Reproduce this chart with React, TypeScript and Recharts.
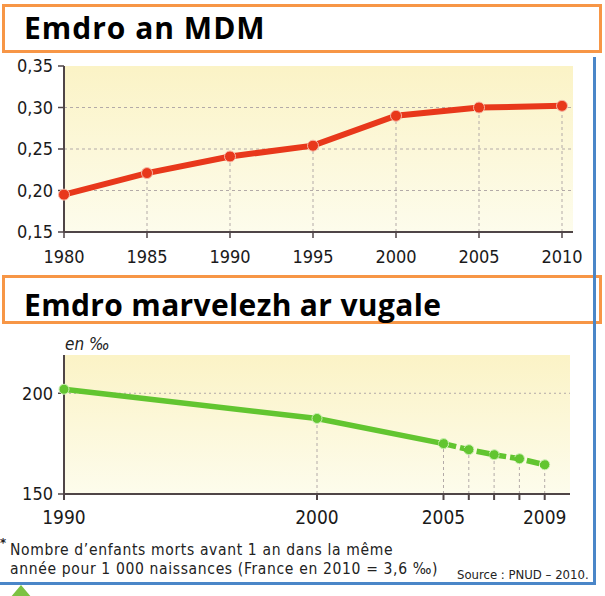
import React from "react";
import { LineChart, Line, XAxis, YAxis, CartesianGrid, ReferenceLine } from "recharts";

// ---- Data: chart 1 (MDM) ----
const years1 = [1980, 1985, 1990, 1995, 2000, 2005, 2010];
const mdmValues = [0.195, 0.221, 0.241, 0.254, 0.29, 0.3, 0.302];
const yTicks1 = [0.15, 0.2, 0.25, 0.3, 0.35];
const gridValues1 = [0.2, 0.25, 0.3];

// ---- Data: chart 2 (mortality) ----
const years2 = [1990, 2000, 2005, 2006, 2007, 2008, 2009];
const mortalityValues = [202, 187.5, 175, 172, 169.5, 167.5, 164.5];
const labeledYears2 = [1990, 2000, 2005, 2009];
const solidUntil = 2005;
const yTicks2 = [150, 200];
const gridValues2 = [200];

const title1 = "Emdro an MDM";
const title2 = "Emdro marvelezh ar vugale";
const unitLabel = "en ‰";
const footLine1 = "Nombre d’enfants morts avant 1 an dans la même";
const footLine2 = "année pour 1 000 naissances (France en 2010 = 3,6 ‰)";
const sourceText = "Source : PNUD – 2010.";

const data1 = years1.map((year, i) => ({ year, v: mdmValues[i] }));
const data2 = years2.map((year, i) => ({
  year,
  solid: year <= solidUntil ? mortalityValues[i] : null,
  dashed: year >= solidUntil ? mortalityValues[i] : null,
}));

const RED = "#e8381b";
const GREEN = "#62c530";
const AXIS = "#4f4547";
const GRID = "#b3aaa8";
const COND = "'DejaVu Sans Condensed', 'Liberation Sans Narrow', 'DejaVu Sans', sans-serif";
const TITLE_FONT = "'Open Sans', 'Noto Sans', sans-serif";

const titleBox: React.CSSProperties = {
  position: "absolute",
  left: 2,
  width: 600,
  height: 49,
  boxSizing: "border-box",
  border: "3px solid #f79646",
  background: "#fff",
};

const titleText: React.CSSProperties = {
  position: "absolute",
  left: 24,
  fontFamily: TITLE_FONT,
  fontWeight: 700,
  fontSize: 30,
  lineHeight: "30px",
  color: "#000",
  whiteSpace: "nowrap",
};

const footStyle: React.CSSProperties = {
  position: "absolute",
  left: 10,
  fontSize: 15.5,
  lineHeight: "15.5px",
  letterSpacing: 0.65,
  color: "#222",
  fontFamily: COND,
  whiteSpace: "nowrap",
};

function Chart1() {
  return (
    <LineChart width={605} height={215} data={data1} margin={{ top: 11, right: 32, left: 0, bottom: 8 }}>
      <defs>
        <linearGradient id="bg1" x1="0" y1="0" x2="0" y2="1">
          <stop offset="0%" stopColor="#fbf3c6" />
          <stop offset="100%" stopColor="#fdfcec" />
        </linearGradient>
      </defs>
      <CartesianGrid fill="url(#bg1)" horizontal={false} vertical={false} stroke="none" />
      {gridValues1.map((v) => (
        <ReferenceLine key={"g" + v} y={v} stroke={GRID} strokeDasharray="3 3" strokeWidth={1} />
      ))}
      {data1.map((d) => (
        <ReferenceLine
          key={"d" + d.year}
          segment={[{ x: d.year, y: yTicks1[0] }, { x: d.year, y: d.v }]}
          stroke={GRID}
          strokeDasharray="3 3"
          strokeWidth={1}
        />
      ))}
      <XAxis
        dataKey="year"
        type="number"
        domain={[years1[0], years1[years1.length - 1]]}
        ticks={years1}
        padding={{ left: 0, right: 11 }}
        height={30}
        tickSize={6}
        tickMargin={12}
        axisLine={{ stroke: AXIS, strokeWidth: 2 }}
        tickLine={{ stroke: AXIS, strokeWidth: 1.5 }}
        tick={{ fill: "#1a1a1a", fontSize: 18, fontFamily: COND }}
        interval={0}
      />
      <YAxis
        type="number"
        domain={[yTicks1[0], yTicks1[yTicks1.length - 1]]}
        ticks={yTicks1}
        width={64}
        tickSize={6}
        tickMargin={5}
        tickFormatter={(v: number) => v.toFixed(2).replace(".", ",")}
        axisLine={{ stroke: AXIS, strokeWidth: 2 }}
        tickLine={{ stroke: AXIS, strokeWidth: 1.5 }}
        tick={{ fill: "#1a1a1a", fontSize: 18, fontFamily: COND }}
        interval={0}
      />
      <Line
        type="linear"
        dataKey="v"
        stroke={RED}
        strokeWidth={6}
        dot={{ r: 5.5, fill: RED, stroke: "#f6b8a6", strokeWidth: 1 }}
        isAnimationActive={false}
      />
    </LineChart>
  );
}

function Chart2() {
  return (
    <LineChart width={605} height={210} data={data2} margin={{ top: 25, right: 35, left: 0, bottom: 10 }}>
      <defs>
        <linearGradient id="bg2" x1="0" y1="0" x2="0" y2="1">
          <stop offset="0%" stopColor="#fbf3c6" />
          <stop offset="100%" stopColor="#fdfcec" />
        </linearGradient>
      </defs>
      <CartesianGrid fill="url(#bg2)" horizontal={false} vertical={false} stroke="none" />
      {gridValues2.map((v) => (
        <ReferenceLine key={"g" + v} y={v} stroke={GRID} strokeDasharray="2 3" strokeWidth={1} />
      ))}
      {years2.map((yr, i) => (
        <ReferenceLine
          key={"d" + yr}
          segment={[{ x: yr, y: yTicks2[0] }, { x: yr, y: mortalityValues[i] }]}
          stroke={GRID}
          strokeDasharray="3 3"
          strokeWidth={1}
        />
      ))}
      <XAxis
        dataKey="year"
        type="number"
        domain={[1990, 2010]}
        ticks={years2}
        height={36}
        tickSize={6}
        tickMargin={11}
        tickFormatter={(v: number) => (labeledYears2.includes(v) ? String(v) : "")}
        axisLine={{ stroke: AXIS, strokeWidth: 2 }}
        tickLine={{ stroke: AXIS, strokeWidth: 2 }}
        tick={{ fill: "#1a1a1a", fontSize: 19, fontFamily: COND }}
        interval={0}
      />
      <YAxis
        type="number"
        domain={[150, 219]}
        ticks={yTicks2}
        width={64}
        tickSize={6}
        tickMargin={5}
        axisLine={{ stroke: AXIS, strokeWidth: 2 }}
        tickLine={{ stroke: AXIS, strokeWidth: 1.5 }}
        tick={{ fill: "#1a1a1a", fontSize: 18, fontFamily: COND }}
        interval={0}
      />
      <Line
        type="linear"
        dataKey="solid"
        stroke={GREEN}
        strokeWidth={5.5}
        dot={{ r: 5, fill: GREEN, stroke: "#c9efb0", strokeWidth: 1 }}
        connectNulls={false}
        isAnimationActive={false}
      />
      <Line
        type="linear"
        dataKey="dashed"
        stroke={GREEN}
        strokeWidth={5.5}
        strokeDasharray="13 4"
        dot={{ r: 5, fill: GREEN, stroke: "#c9efb0", strokeWidth: 1 }}
        connectNulls={false}
        isAnimationActive={false}
      />
    </LineChart>
  );
}

export default function App() {
  return (
    <div
      style={{
        position: "absolute",
        left: 0,
        top: 0,
        width: 605,
        height: 596,
        background: "#fff",
        overflow: "hidden",
        fontFamily: COND,
      }}
    >
      {/* Title 1 */}
      <div style={{ ...titleBox, top: 4 }} />
      <div style={{ ...titleText, top: 13, letterSpacing: 1 }}>{title1}</div>

      {/* Chart 1 */}
      <div style={{ position: "absolute", left: 0, top: 55 }}>
        <Chart1 />
      </div>

      {/* Title 2 */}
      <div style={{ ...titleBox, top: 275 }} />
      <div style={{ position: "absolute", left: 0, top: 330 }}>
        <Chart2 />
      </div>
      <div style={{ ...titleText, top: 290, letterSpacing: 0.35 }}>{title2}</div>

      {/* Unit label */}
      <div
        style={{
          position: "absolute",
          left: 65,
          top: 336,
          fontSize: 17,
          lineHeight: "17px",
          fontStyle: "italic",
          color: "#222",
          fontFamily: COND,
        }}
      >
        {unitLabel}
      </div>

      {/* Footnote */}
      <div
        style={{
          position: "absolute",
          left: 0,
          top: 536,
          fontSize: 13,
          fontWeight: 700,
          color: "#222",
          lineHeight: "13px",
        }}
      >
        *
      </div>
      <div style={{ ...footStyle, top: 543 }}>{footLine1}</div>
      <div style={{ ...footStyle, top: 562 }}>{footLine2}</div>
      <div
        style={{
          position: "absolute",
          left: 457,
          top: 568,
          fontSize: 13,
          lineHeight: "13px",
          color: "#222",
          fontFamily: COND,
          whiteSpace: "nowrap",
        }}
      >
        {sourceText}
      </div>

      {/* Blue frame */}
      <div style={{ position: "absolute", left: 593, top: 57, width: 3, height: 527, background: "#4a86c8" }} />
      <div style={{ position: "absolute", left: 0, top: 582, width: 596, height: 3, background: "#4a86c8" }} />
      {/* Green marker */}
      <div
        style={{
          position: "absolute",
          left: 10,
          top: 585,
          width: 0,
          height: 0,
          borderLeft: "11px solid transparent",
          borderRight: "11px solid transparent",
          borderBottom: "13px solid #7cc242",
        }}
      />
    </div>
  );
}
